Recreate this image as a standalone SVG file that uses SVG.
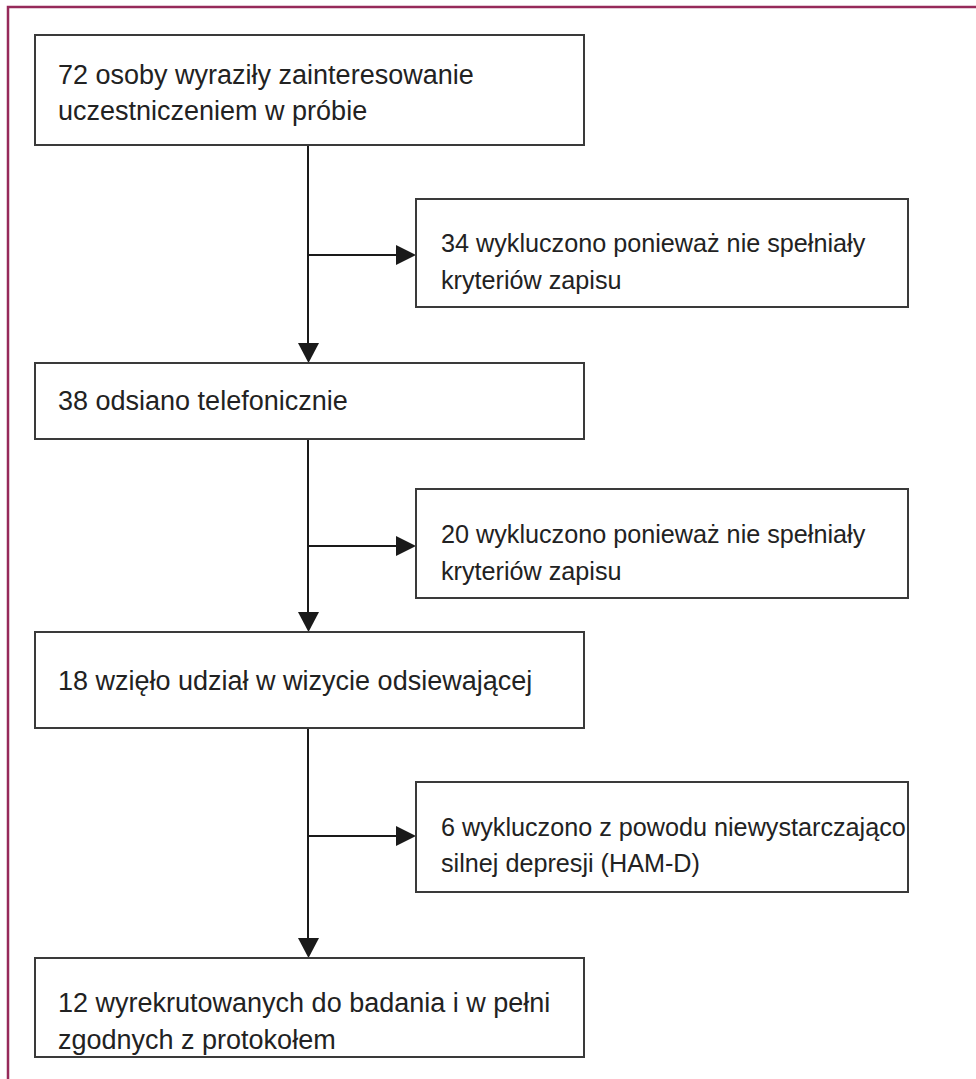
<svg xmlns="http://www.w3.org/2000/svg" width="976" height="1079" viewBox="0 0 976 1079">
<defs>
<style>
.box{fill:#fff;stroke:#3a3a3a;stroke-width:2}
.t{font-family:"Liberation Sans",Arial,sans-serif;font-size:27px;fill:#222}
.r{font-size:25.2px}
.c{stroke:#1a1a1a;stroke-width:2;fill:none}
.frame{stroke:#962a5a;stroke-width:2.5;fill:none}
</style>
</defs>
<rect width="976" height="1079" fill="#fff"/>
<path class="frame" d="M8,1079 L8,7 L976,7"/>
<g id="connectors">
<path class="c" d="M308,145 V345" />
<path d="M298,343 L319,343 L308.5,363 Z" fill="#1a1a1a"/>
<path class="c" d="M308,255 H398" />
<path d="M396,245 L416,255 L396,265 Z" fill="#1a1a1a"/>
<path class="c" d="M308,439 V614" />
<path d="M298,612 L319,612 L308.5,632 Z" fill="#1a1a1a"/>
<path class="c" d="M308,546 H398" />
<path d="M396,536 L416,546 L396,556 Z" fill="#1a1a1a"/>
<path class="c" d="M308,728 V940" />
<path d="M298,938 L319,938 L308.5,958 Z" fill="#1a1a1a"/>
<path class="c" d="M308,836 H398" />
<path d="M396,826 L416,836 L396,846 Z" fill="#1a1a1a"/>
</g>
<g id="n1">
<rect class="box" x="35" y="35" width="549" height="110"/>
<text class="t" x="58" y="84">72 osoby wyraziły zainteresowanie</text>
<text class="t" x="58" y="120">uczestniczeniem w próbie</text>
</g>
<g id="n2">
<rect class="box" x="416" y="199" width="492" height="108"/>
<text class="t r" x="441" y="252">34 wykluczono ponieważ nie spełniały</text>
<text class="t r" x="441" y="289">kryteriów zapisu</text>
</g>
<g id="n3">
<rect class="box" x="35" y="363" width="549" height="76"/>
<text class="t" x="58" y="410">38 odsiano telefonicznie</text>
</g>
<g id="n4">
<rect class="box" x="416" y="489" width="492" height="109"/>
<text class="t r" x="441" y="543">20 wykluczono ponieważ nie spełniały</text>
<text class="t r" x="441" y="580">kryteriów zapisu</text>
</g>
<g id="n5">
<rect class="box" x="35" y="632" width="549" height="96"/>
<text class="t" x="58" y="690">18 wzięło udział w wizycie odsiewającej</text>
</g>
<g id="n6">
<rect class="box" x="416" y="782" width="492" height="110"/>
<text class="t r" x="441" y="836">6 wykluczono z powodu niewystarczająco</text>
<text class="t r" x="441" y="872">silnej depresji (HAM-D)</text>
</g>
<g id="n7">
<rect class="box" x="35" y="958" width="549" height="99"/>
<text class="t" x="58" y="1012">12 wyrekrutowanych do badania i w pełni</text>
<text class="t" x="58" y="1049">zgodnych z protokołem</text>
</g>
</svg>
